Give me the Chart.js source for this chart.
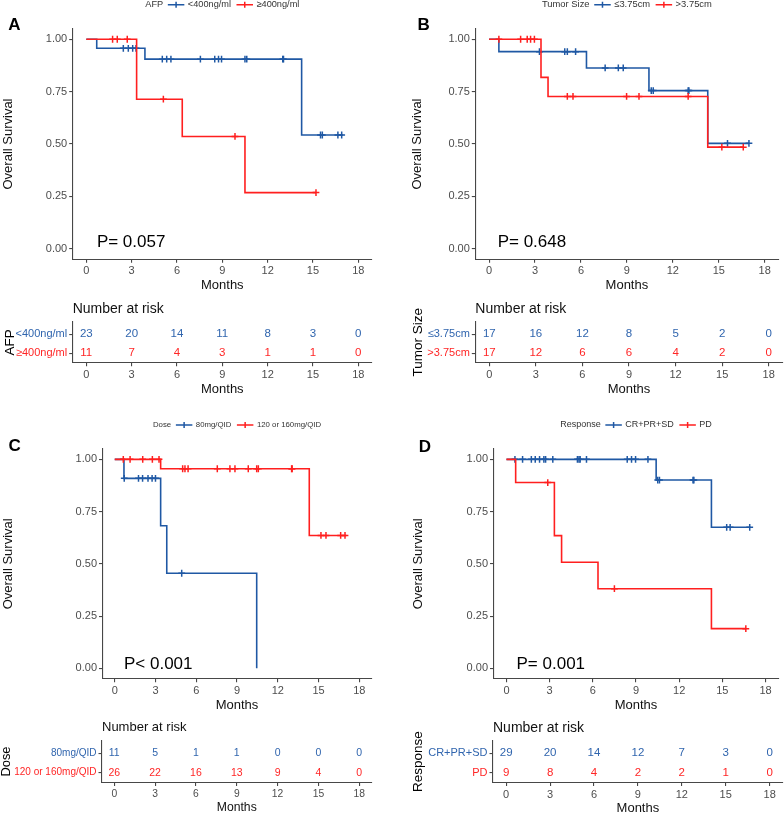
<!DOCTYPE html>
<html>
<head>
<meta charset="utf-8">
<script src="https://cdn.jsdelivr.net/npm/chart.js@4.4.0/dist/chart.umd.min.js"></script>
<style>
  html, body { margin: 0; padding: 0; background: #fff; overflow: hidden; }
  #fig { position: relative; width: 784px; height: 814px; overflow: hidden; }
  #fig canvas { position: absolute; }
</style>
</head>
<body>
<div id="fig"></div>
<script>
// shared axes
const months = [0, 3, 6, 9, 12, 15, 18];
const survTicks = [0, 0.25, 0.5, 0.75, 1];

// A: AFP
const afpGroups = ['<400ng/ml', '≥400ng/ml'];
const afpLowCurve = [[0, 1], [0.69, 0.957], [3.88, 0.905], [14.25, 0.543], [17.0, 0.543]];
const afpLowCensor = [2.45, 2.78, 3.07, 3.29, 5.03, 5.32, 5.6, 7.55, 8.5, 8.75, 8.95, 10.5, 10.62, 13.0, 13.05, 15.5, 15.62, 16.65, 16.9];
const afpHighCurve = [[0, 1], [3.33, 0.714], [6.35, 0.536], [10.5, 0.268], [15.2, 0.268]];
const afpHighCensor = [1.74, 2.05, 2.71, 5.1, 9.84, 15.2];
const afpRisk = [[23, 20, 14, 11, 8, 3, 0], [11, 7, 4, 3, 1, 1, 0]];

// B: tumor size
const sizeGroups = ['≤3.75cm', '>3.75cm'];
const sizeSmallCurve = [[0, 1], [0.64, 0.941], [6.36, 0.863], [10.44, 0.755], [14.28, 0.503], [16.97, 0.503]];
const sizeSmallCensor = [3.29, 4.94, 5.11, 5.65, 7.58, 8.44, 8.76, 10.59, 10.72, 13.0, 13.05, 15.57, 16.97];
const sizeLargeCurve = [[0, 1], [3.39, 0.818], [3.85, 0.727], [14.28, 0.485], [16.6, 0.485]];
const sizeLargeCensor = [0.64, 2.06, 2.49, 2.71, 2.96, 5.11, 5.48, 8.98, 9.79, 13.0, 15.2, 16.6];
const sizeRisk = [[17, 16, 12, 8, 5, 2, 0], [17, 12, 6, 6, 4, 2, 0]];

// C: dose
const doseGroups = ['80mg/QID', '120 or 160mg/QID'];
const doseLowCurve = [[0, 1], [0.68, 0.909], [3.38, 0.682], [3.83, 0.455], [10.45, 0]];
const doseLowCensor = [0.7, 1.75, 2.05, 2.45, 2.75, 3.0, 4.93];
const doseHighCurve = [[0, 1], [3.38, 0.955], [14.32, 0.636], [17.05, 0.636]];
const doseHighCensor = [0.63, 1.13, 2.06, 2.77, 3.26, 5.0, 5.17, 5.4, 7.55, 8.48, 8.85, 9.83, 10.45, 10.57, 13.02, 13.06, 15.18, 15.55, 16.63, 16.95];
const doseRisk = [[11, 5, 1, 1, 0, 0, 0], [26, 22, 16, 13, 9, 4, 0]];

// D: response
const respGroups = ['CR+PR+SD', 'PD'];
const respGoodCurve = [[0, 1], [10.4, 0.901], [14.24, 0.675], [16.95, 0.675]];
const respGoodCensor = [0.59, 1.12, 1.73, 2.0, 2.3, 2.6, 2.72, 3.22, 4.93, 5.04, 5.12, 5.56, 8.39, 8.69, 8.97, 9.83, 10.51, 10.63, 12.96, 13.02, 15.3, 15.54, 16.9];
const respPdCurve = [[0, 1], [0.64, 0.889], [3.33, 0.635], [3.83, 0.508], [6.36, 0.381], [14.24, 0.19], [16.63, 0.19]];
const respPdCensor = [2.87, 7.5, 16.63];
const respRisk = [[29, 20, 14, 12, 7, 3, 0], [9, 8, 4, 2, 2, 1, 0]];

const BLUE = '#1f58a4', RED = '#ff1f1f';
const BLUE_TXT = '#3065ae', RED_TXT = '#ff2626';
const AXIS = '#474747', TICK = '#4d4d4d';
const FONT = "'Liberation Sans', Arial, sans-serif";
const fig = document.getElementById('fig');

function survAt(curve, t) {
  let s = curve[0][1];
  for (const [x, y] of curve) if (x <= t) s = y;
  return s;
}

function addCanvas(box) {
  const cv = document.createElement('canvas');
  cv.width = box.w; cv.height = box.h;
  cv.style.left = box.x + 'px'; cv.style.top = box.y + 'px';
  cv.style.width = box.w + 'px'; cv.style.height = box.h + 'px';
  fig.appendChild(cv);
  return cv;
}

// padding + axis sizes so that the plot area lands where the reference has it
function frame(p, yTitleSize, xTitleSize) {
  const yLh = yTitleSize * 1.2, xLh = xTitleSize * 1.2;
  const padL = p.yTitleX - p.box.x - yLh / 2;
  const axisBottom = p.xTitleY + xLh / 2;
  return {
    padding: { left: padL, top: p.plot.t - p.box.y, right: p.box.x + p.box.w - p.plot.r, bottom: p.box.y + p.box.h - axisBottom },
    yWidth: p.plot.l - p.box.x - padL,
    xHeight: axisBottom - p.plot.b
  };
}

function axis(size, extra, tickExtra) {
  return Object.assign({
    type: 'linear',
    border: { display: true, color: AXIS, width: 1.1 },
    grid: { display: true, drawOnChartArea: false, drawTicks: true, tickLength: 3.5, color: AXIS, lineWidth: 1.1 },
    ticks: Object.assign({ font: { family: FONT, size }, color: TICK, padding: 2, autoSkip: false, maxRotation: 0 }, tickExtra)
  }, extra);
}

function xAxis(fr, f) {
  return axis(f.tick, {
    min: -0.9, max: 18.9,
    afterBuildTicks: a => { a.ticks = months.map(v => ({ value: v })); },
    afterFit: a => { a.height = fr.xHeight; },
    title: { display: true, text: 'Months', font: { family: FONT, size: f.title }, color: '#111', padding: 0 }
  }, { callback: v => String(v) });
}

function overlay(draw) {
  return { id: 'overlay', afterDraw(chart) { const ctx = chart.ctx; ctx.save(); draw(chart, ctx); ctx.restore(); } };
}

function drawLegend(chart, ctx, lg, series) {
  ctx.font = `${lg.size}px ${FONT}`;
  const lineW = 16.5, gap = 3.5, itemGap = 5.5, titleGap = 4.7;
  const titleW = ctx.measureText(lg.title).width;
  let total = titleW + titleGap;
  series.forEach((s, i) => {
    total += lineW + gap + ctx.measureText(s.label).width + (i < series.length - 1 ? itemGap : 0);
  });
  const ca = chart.chartArea;
  let x = (ca.left + ca.right) / 2 - total / 2;
  const y = ca.top - 24;
  ctx.textBaseline = 'middle'; ctx.textAlign = 'left'; ctx.fillStyle = '#333';
  ctx.fillText(lg.title, x, y);
  x += titleW + titleGap;
  series.forEach(s => {
    ctx.strokeStyle = s.color; ctx.lineWidth = 1.5;
    ctx.beginPath();
    ctx.moveTo(x, y); ctx.lineTo(x + lineW, y);
    ctx.moveTo(x + lineW / 2, y - 3); ctx.lineTo(x + lineW / 2, y + 3);
    ctx.stroke();
    x += lineW + gap;
    ctx.fillStyle = '#333';
    ctx.fillText(s.label, x, y);
    x += ctx.measureText(s.label).width + itemGap;
  });
}

function kmPanel(p) {
  const cv = addCanvas(p.box);
  const f = p.f;
  const fr = frame(p, f.title, f.title);
  const datasets = [];
  p.series.forEach((s, i) => {
    const order = p.series.length - i;
    datasets.push({ type: 'line', data: s.curve.map(([x, y]) => ({ x, y })), stepped: true,
      borderColor: s.color, borderWidth: 1.6, pointRadius: 0, fill: false, order });
    datasets.push({ type: 'scatter', data: s.censor.map(t => ({ x: t, y: survAt(s.curve, t) })),
      pointStyle: 'cross', pointRadius: 3.4, borderColor: s.color, backgroundColor: s.color, borderWidth: 1.5, order });
  });
  new Chart(cv, {
    type: 'line',
    data: { datasets },
    options: {
      responsive: false, animation: false, events: [],
      layout: { padding: fr.padding },
      plugins: { legend: { display: false }, tooltip: { enabled: false } },
      scales: {
        x: xAxis(fr, f),
        y: axis(f.tick, {
          min: -0.05, max: 1.05,
          afterBuildTicks: a => { a.ticks = survTicks.map(v => ({ value: v })); },
          afterFit: a => { a.width = fr.yWidth; },
          title: { display: true, text: 'Overall Survival', font: { family: FONT, size: f.title }, color: '#111', padding: 0 }
        }, { callback: v => Number(v).toFixed(2) })
      }
    },
    plugins: [overlay((chart, ctx) => {
      drawLegend(chart, ctx, p.legend, p.series);
      ctx.fillStyle = '#000';
      ctx.textBaseline = 'middle';
      ctx.textAlign = 'center';
      ctx.font = `bold ${f.letter}px ${FONT}`;
      ctx.fillText(p.letter.text, p.letter.x - p.box.x, p.letter.y - p.box.y);
      ctx.textAlign = 'left';
      ctx.font = `${f.pval}px ${FONT}`;
      ctx.fillText(p.pval.text, chart.scales.x.getPixelForValue(p.pval.t), chart.scales.y.getPixelForValue(p.pval.s));
    })]
  });
}

function riskPanel(p) {
  const cv = addCanvas(p.box);
  const f = p.f;
  const fr = frame(p, f.yTitle, f.title);
  const datasets = p.rows.map((vals, r) => ({
    type: 'scatter', data: months.map(m => ({ x: m, y: r + 1 })), pointRadius: 0
  }));
  new Chart(cv, {
    type: 'scatter',
    data: { datasets },
    options: {
      responsive: false, animation: false, events: [],
      layout: { padding: fr.padding },
      plugins: { legend: { display: false }, tooltip: { enabled: false } },
      scales: {
        x: xAxis(fr, f),
        y: axis(f.lab, {
          min: 0.35, max: 2.5, reverse: true,
          afterBuildTicks: a => { a.ticks = p.groups.map((g, i) => ({ value: i + 1 })); },
          afterFit: a => { a.width = fr.yWidth; },
          title: { display: true, text: p.title, font: { family: FONT, size: f.yTitle }, color: '#000', padding: 0 }
        }, {
          callback: v => p.groups[Math.round(v) - 1],
          color: c => p.colors[c.index]
        })
      }
    },
    plugins: [overlay((chart, ctx) => {
      const ca = chart.chartArea;
      ctx.fillStyle = '#111';
      ctx.textBaseline = 'middle';
      ctx.textAlign = 'left';
      ctx.font = `${f.nar}px ${FONT}`;
      ctx.fillText('Number at risk', ca.left, ca.top - 12.8);
      ctx.textAlign = 'center';
      ctx.font = `${f.num}px ${FONT}`;
      p.rows.forEach((vals, r) => {
        ctx.fillStyle = p.colors[r];
        chart.getDatasetMeta(r).data.forEach((el, i) => ctx.fillText(String(vals[i]), el.x, el.y));
      });
    })]
  });
}

const mainFont = { tick: 11, title: 13, legend: 9.2, pval: 17, letter: 17 };
const riskFont = { tick: 11, title: 13, yTitle: 13.5, lab: 11, num: 11.5, nar: 14 };
const riskFontC = { tick: 10.3, title: 12.2, yTitle: 12.9, lab: 10, num: 10.5, nar: 13 };
const txtColors = [BLUE_TXT, RED_TXT];

// A
kmPanel({
  box: { x: 0, y: 0, w: 392, h: 305 }, plot: { l: 72.7, r: 371.9, t: 28.8, b: 259.2 }, yTitleX: 8, xTitleY: 285,
  f: mainFont, legend: { title: 'AFP', size: 9.2 }, letter: { text: 'A', x: 14.5, y: 25 }, pval: { text: 'P= 0.057', t: 0.7, s: 0.03 },
  series: [
    { label: afpGroups[0], color: BLUE, curve: afpLowCurve, censor: afpLowCensor },
    { label: afpGroups[1], color: RED, curve: afpHighCurve, censor: afpHighCensor }
  ]
});
riskPanel({
  box: { x: 0, y: 295, w: 392, h: 110 }, plot: { l: 72.7, r: 371.9, t: 321.9, b: 362.8 }, yTitleX: 10, xTitleY: 389,
  f: riskFont, title: 'AFP', groups: afpGroups, rows: afpRisk, colors: txtColors
});

// B
kmPanel({
  box: { x: 392, y: 0, w: 392, h: 305 }, plot: { l: 475.3, r: 782.7, t: 28.8, b: 259.2 }, yTitleX: 417, xTitleY: 285,
  f: mainFont, legend: { title: 'Tumor Size', size: 9.4 }, letter: { text: 'B', x: 423.7, y: 25 }, pval: { text: 'P= 0.648', t: 0.56, s: 0.03 },
  series: [
    { label: sizeGroups[0], color: BLUE, curve: sizeSmallCurve, censor: sizeSmallCensor },
    { label: sizeGroups[1], color: RED, curve: sizeLargeCurve, censor: sizeLargeCensor }
  ]
});
riskPanel({
  box: { x: 392, y: 295, w: 392, h: 110 }, plot: { l: 475.3, r: 782.7, t: 321.9, b: 362.8 }, yTitleX: 418.7, xTitleY: 389,
  f: riskFont, title: 'Tumor Size', groups: sizeGroups, rows: sizeRisk, colors: txtColors
});

// C
kmPanel({
  box: { x: 0, y: 410, w: 392, h: 305 }, plot: { l: 102.5, r: 371.5, t: 448.9, b: 678.8 }, yTitleX: 8, xTitleY: 705,
  f: mainFont, legend: { title: 'Dose', size: 7.8 }, letter: { text: 'C', x: 14.7, y: 446.7 }, pval: { text: 'P< 0.001', t: 0.68, s: 0.02 },
  series: [
    { label: doseGroups[0], color: BLUE, curve: doseLowCurve, censor: doseLowCensor },
    { label: doseGroups[1], color: RED, curve: doseHighCurve, censor: doseHighCensor }
  ]
});
riskPanel({
  box: { x: 0, y: 712, w: 392, h: 110 }, plot: { l: 102, r: 371.5, t: 740.7, b: 782.4 }, yTitleX: 6.7, xTitleY: 808,
  f: riskFontC, title: 'Dose', groups: doseGroups, rows: doseRisk, colors: txtColors
});

// D
kmPanel({
  box: { x: 392, y: 410, w: 392, h: 305 }, plot: { l: 493.5, r: 782.8, t: 448.9, b: 678.8 }, yTitleX: 418.7, xTitleY: 705,
  f: mainFont, legend: { title: 'Response', size: 9 }, letter: { text: 'D', x: 425, y: 447 }, pval: { text: 'P= 0.001', t: 0.7, s: 0.02 },
  series: [
    { label: respGroups[0], color: BLUE, curve: respGoodCurve, censor: respGoodCensor },
    { label: respGroups[1], color: RED, curve: respPdCurve, censor: respPdCensor }
  ]
});
riskPanel({
  box: { x: 392, y: 712, w: 392, h: 110 }, plot: { l: 493, r: 782.8, t: 740.7, b: 782.4 }, yTitleX: 418.2, xTitleY: 808,
  f: riskFont, title: 'Response', groups: respGroups, rows: respRisk, colors: txtColors
});
</script>
</body>
</html>
